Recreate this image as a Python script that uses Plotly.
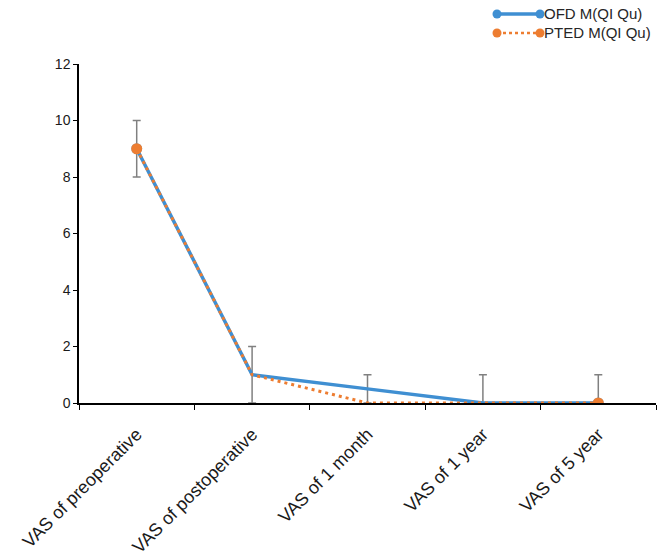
import plotly.graph_objects as go

categories = ["VAS of preoperative", "VAS of postoperative", "VAS of 1 month", "VAS of 1 year", "VAS of 5 year"]
ofd_values = [9, 1, 0.5, 0, 0]
pted_values = [9, 1, 0, 0, 0]
pted_upper_err = [1, 1, 1, 1, 1]
pted_lower_err = [1, 1, 0, 0, 0]
series_names = ["OFD M(QI Qu)", "PTED M(QI Qu)"]
y_ticks = [0, 2, 4, 6, 8, 10, 12]

BLUE = "#3f8fd2"
ORANGE = "#ed7d31"
GRAY = "#808080"

n = len(categories)
end_sizes = [11 if i in (0, n - 1) else 0 for i in range(n)]

fig = go.Figure()
# error bars (drawn beneath the lines and markers)
fig.add_trace(go.Scatter(
    x=categories, y=pted_values, mode="markers",
    marker=dict(size=1, opacity=0),
    error_y=dict(type="data", symmetric=False, array=pted_upper_err, arrayminus=pted_lower_err,
                 color=GRAY, thickness=1.5, width=4),
    showlegend=False, hoverinfo="skip",
))
fig.add_trace(go.Scatter(
    x=categories, y=ofd_values, mode="lines+markers", name=series_names[0],
    line=dict(color=BLUE, width=3.5),
    marker=dict(color=BLUE, size=end_sizes, line=dict(width=0)),
    showlegend=False,
))
fig.add_trace(go.Scatter(
    x=categories, y=pted_values, mode="lines+markers", name=series_names[1],
    line=dict(color=ORANGE, width=3, dash="3px,4px"),
    marker=dict(color=ORANGE, size=end_sizes, line=dict(width=0), opacity=1),
    showlegend=False,
))

# custom legend (line sample with markers at both ends, as in reference)
L, R, T, B = 79, 12, 64, 156
W, H = 668, 559
pw, ph = W - L - R, H - T - B
def px(xp):
    return (xp - L) / pw
def py(yp):
    return (H - B - yp) / ph

rows = [(14, BLUE, "solid", 3.5), (33, ORANGE, "dot", 2.5)]
for (yy, col, dash, lw), name in zip(rows, series_names):
    fig.add_shape(type="line", xref="paper", yref="paper",
                  x0=px(497), x1=px(540), y0=py(yy), y1=py(yy),
                  line=dict(color=col, width=lw, dash=dash))
    for cx in (497, 540):
        fig.add_shape(type="circle", xref="paper", yref="paper",
                      x0=px(cx - 4.5), x1=px(cx + 4.5), y0=py(yy - 4.5), y1=py(yy + 4.5),
                      fillcolor=col, line=dict(width=0))
    fig.add_annotation(text=name, xref="paper", yref="paper", x=px(542), y=py(yy),
                       xanchor="left", yanchor="middle", showarrow=False,
                       font=dict(family="Liberation Sans, Arial", size=15, color="#262626"))

fig.update_layout(
    width=W, height=H,
    margin=dict(l=L, r=R, t=T, b=B, autoexpand=False),
    paper_bgcolor="white", plot_bgcolor="white",
    font=dict(family="Liberation Sans, Arial", color="#262626"),
    showlegend=False,
)
fig.update_xaxes(
    type="category", categoryorder="array", categoryarray=categories,
    range=[-0.5, n - 0.5], automargin=False,
    showline=True, linecolor="black", linewidth=1.5,
    ticks="outside", tickson="boundaries", ticklen=5, tickcolor="black",
    tickangle=-45, tickfont=dict(size=18, color="#1a1a1a"),
    ticklabelstandoff=12,
    showgrid=False, zeroline=False,
)
fig.update_yaxes(
    range=[0, 12], tickvals=y_ticks, automargin=False,
    showline=True, linecolor="black", linewidth=1.5,
    ticks="outside", ticklen=4, tickcolor="black",
    tickfont=dict(size=14, color="#1a1a1a"),
    showgrid=False, zeroline=False,
)

fig.write_html("out.html")
